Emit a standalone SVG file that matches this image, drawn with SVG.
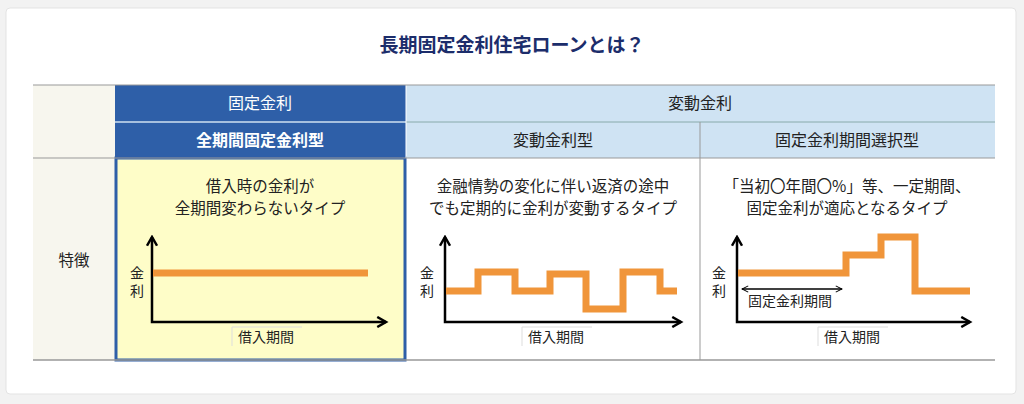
<svg xmlns="http://www.w3.org/2000/svg" width="1024" height="404" viewBox="0 0 1024 404">
<style>
text{font-family:"Noto Sans CJK JP","Noto Sans",sans-serif;fill:#222}
.hd{fill:#fff;font-size:16px;text-anchor:middle}
.hl{fill:#222;font-size:16px;text-anchor:middle}
.ds{font-size:15.5px;text-anchor:middle}
.ax{fill:none;stroke:#000;stroke-width:2.5}
.ol{fill:none;stroke:#f0953a;stroke-width:7}
.sm{font-size:14px}
</style>
<defs>
<marker id="ah" viewBox="0 0 10 10" refX="8" refY="5" markerWidth="5" markerHeight="5" orient="auto-start-reverse"><path d="M1,1 L8,5 L1,9" fill="none" stroke="#000" stroke-width="2"/></marker>
<marker id="sa" viewBox="0 0 10 10" refX="9" refY="5" markerWidth="6" markerHeight="6" orient="auto-start-reverse"><path d="M1,1 L9,5 L1,9" fill="none" stroke="#000" stroke-width="1.3"/></marker>
</defs>
<rect x="0" y="0" width="1024" height="404" fill="#f2f2f2"/>
<rect x="6" y="8" width="1010" height="386" rx="4" fill="#fff" stroke="#e3e3e3"/>
<text x="512" y="52" text-anchor="middle" style="font-size:19px;font-weight:bold;fill:#1c2d6b">長期固定金利住宅ローンとは？</text>
<g id="table">
<rect x="33" y="85" width="82" height="275" fill="#f7f6ee"/>
<rect x="115" y="85" width="291" height="73" fill="#2e5fa8"/>
<rect x="406" y="85" width="589" height="73" fill="#cfe3f3"/>
<rect x="116" y="158" width="289" height="202" fill="#fefdc8" stroke="#2e5fa8" stroke-width="3"/>
<line x1="115" y1="122" x2="406" y2="122" stroke="#cfe0f2" stroke-width="1.5"/>
<line x1="406" y1="122" x2="995" y2="122" stroke="#8aa" stroke-width="1"/>
<line x1="700" y1="122" x2="700" y2="360" stroke="#999" stroke-width="1"/>
<line x1="406" y1="85" x2="406" y2="158" stroke="#fff" stroke-width="1"/>
<line x1="33" y1="85" x2="995" y2="85" stroke="#999" stroke-width="1"/>
<line x1="33" y1="158" x2="995" y2="158" stroke="#999" stroke-width="1"/>
<line x1="33" y1="360" x2="995" y2="360" stroke="#999" stroke-width="1.5"/>
<text class="hd" x="260" y="109">固定金利</text>
<text class="hd" x="260" y="146" style="font-weight:bold">全期間固定金利型</text>
<text class="hl" x="700" y="109">変動金利</text>
<text class="hl" x="553" y="146">変動金利型</text>
<text class="hl" x="847" y="146">固定金利期間選択型</text>
<text class="ds" x="74" y="266">特徴</text>
</g>
<g id="chart1">
<text class="ds" x="260" y="192">借入時の金利が</text>
<text class="ds" x="260" y="214">全期間変わらないタイプ</text>
<polyline class="ax" points="152,237 152,322 386,322" marker-start="url(#ah)" marker-end="url(#ah)"/>
<line class="ol" x1="153" y1="273" x2="368" y2="273"/>
<text class="sm" x="130" y="278">金</text><text class="sm" x="130" y="296">利</text>
<line x1="232" y1="327" x2="232" y2="346" stroke="#ddd"/><line x1="232" y1="327" x2="302" y2="327" stroke="#ddd"/>
<text class="sm" x="238" y="342">借入期間</text>
</g>
<g id="chart2">
<text class="ds" x="553" y="192">金融情勢の変化に伴い返済の途中</text>
<text class="ds" x="553" y="214">でも定期的に金利が変動するタイプ</text>
<polyline class="ax" points="445,237 445,322 681,322" marker-start="url(#ah)" marker-end="url(#ah)"/>
<polyline class="ol" points="446,291 478,291 478,272 515,272 515,291 550,291 550,274 586,274 586,309 623,309 623,272 660,272 660,291 677,291"/>
<text class="sm" x="420" y="278">金</text><text class="sm" x="420" y="296">利</text>
<line x1="522" y1="327" x2="522" y2="346" stroke="#ddd"/><line x1="522" y1="327" x2="592" y2="327" stroke="#ddd"/>
<text class="sm" x="528" y="342">借入期間</text>
</g>
<g id="chart3">
<text class="ds" x="847" y="192">「当初〇年間〇%」等、一定期間、</text>
<text class="ds" x="847" y="214">固定金利が適応となるタイプ</text>
<polyline class="ax" points="737,237 737,322 970,322" marker-start="url(#ah)" marker-end="url(#ah)"/>
<polyline class="ol" points="738,273 846,273 846,255 881,255 881,237 915,237 915,291 970,291"/>
<line x1="742" y1="289" x2="842" y2="289" stroke="#000" stroke-width="1.3" marker-start="url(#sa)" marker-end="url(#sa)"/>
<text class="sm" x="748" y="306">固定金利期間</text>
<text class="sm" x="712" y="278">金</text><text class="sm" x="712" y="296">利</text>
<line x1="818" y1="327" x2="818" y2="346" stroke="#ddd"/><line x1="818" y1="327" x2="888" y2="327" stroke="#ddd"/>
<text class="sm" x="824" y="342">借入期間</text>
</g>
</svg>
